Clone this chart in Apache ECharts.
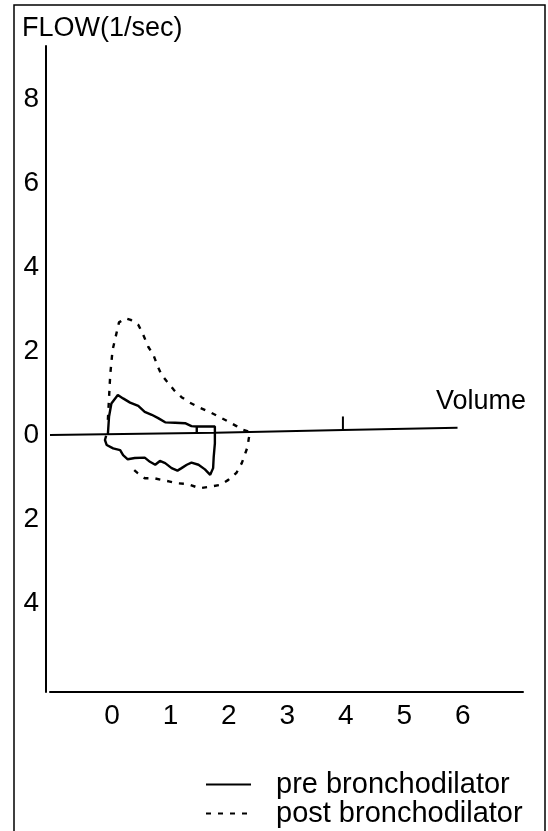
<!DOCTYPE html>
<html>
<head>
<meta charset="utf-8">
<script src="https://cdn.jsdelivr.net/npm/echarts@6/dist/echarts.min.js"></script>
<style>
html,body{margin:0;padding:0;background:#fff;}
#chart{width:548px;height:831px;}
</style>
</head>
<body>
<div id="chart"></div>
<script>
// ---- data (volume in litres, flow in l/sec) ----
var xTickValues = [0, 1, 2, 3, 4, 5, 6];
var yTickValues = [-4, -2, 0, 2, 4, 6, 8];

var preBronchodilator = [
  [-0.07, 0.02], [-0.05, 0.44], [-0.01, 0.75], [0.10, 0.95], [0.19, 0.87],
  [0.31, 0.77], [0.45, 0.69], [0.56, 0.55], [0.68, 0.48], [0.79, 0.40],
  [0.91, 0.30], [1.08, 0.29], [1.25, 0.28], [1.36, 0.21], [1.45, 0.20],
  [1.45, 0.03], [1.45, 0.20], [1.76, 0.20], [1.76, 0.04], [1.76, -0.20],
  [1.74, -0.52], [1.73, -0.79], [1.68, -0.95], [1.59, -0.82], [1.48, -0.71],
  [1.36, -0.66], [1.28, -0.71], [1.19, -0.79], [1.12, -0.85], [1.02, -0.79],
  [0.91, -0.67], [0.82, -0.62], [0.74, -0.71], [0.65, -0.64], [0.56, -0.54],
  [0.39, -0.55], [0.27, -0.58], [0.19, -0.48], [0.14, -0.36], [0.02, -0.32],
  [-0.09, -0.24], [-0.12, -0.12], [-0.10, -0.02]
];

var postBronchodilator = [
  [-0.07, 0.36], [-0.03, 1.43], [0.01, 2.02], [0.12, 2.68], [0.23, 2.78],
  [0.32, 2.74], [0.45, 2.62], [0.51, 2.46], [0.56, 2.30], [0.62, 2.10],
  [0.71, 1.90], [0.78, 1.64], [0.85, 1.43], [0.94, 1.27], [1.06, 1.07],
  [1.19, 0.90], [1.33, 0.77], [1.50, 0.65], [1.68, 0.54], [1.82, 0.44],
  [1.99, 0.32], [2.13, 0.21], [2.24, 0.12], [2.36, 0.07], [2.36, 0.02],
  [2.34, -0.08], [2.32, -0.28], [2.27, -0.48], [2.22, -0.67], [2.13, -0.90],
  [1.99, -1.07], [1.85, -1.19], [1.68, -1.23], [1.50, -1.27], [1.30, -1.17],
  [1.11, -1.15], [0.99, -1.11], [0.85, -1.07], [0.72, -1.03], [0.56, -1.03],
  [0.44, -0.91], [0.31, -0.75]
];

var zeroFlowLine = [[-1.06, 0.0], [1.76, 0.05], [3.95, 0.12], [5.91, 0.17]];
var zeroLineTick = [[3.95, 0.12], [3.95, 0.44]];

var xRange = [-1.06, 7.03];
var yRange = [-6.12, 9.26];

var FONT = '"Liberation Sans", Arial, sans-serif';

var legendText = {fontFamily: FONT, fontSize: 29, color: '#000', padding: [0, 0, 0, 20], lineHeight: 29};

var chart = echarts.init(document.getElementById('chart'), null, {renderer: 'canvas'});
chart.setOption({
  backgroundColor: '#fff',
  animation: false,
  title: [
    {text: 'FLOW(1/sec)', left: 22, top: 15, padding: 0,
     textStyle: {fontFamily: FONT, fontSize: 27, fontWeight: 'normal', color: '#000'}},
    {text: 'Volume', left: 436, top: 388, padding: 0,
     textStyle: {fontFamily: FONT, fontSize: 27, fontWeight: 'normal', color: '#000'}}
  ],
  grid: {left: 50, right: 25, top: 46, bottom: 139, containLabel: false},
  xAxis: {
    type: 'value', min: xRange[0], max: xRange[1],
    axisLine: {show: true, onZero: false, lineStyle: {color: '#000', width: 2}},
    axisTick: {show: false},
    splitLine: {show: false},
    axisLabel: {customValues: xTickValues, margin: 10, color: '#000',
                fontFamily: FONT, fontSize: 28}
  },
  yAxis: {
    type: 'value', min: yRange[0], max: yRange[1], offset: 4,
    axisLine: {show: true, onZero: false, lineStyle: {color: '#000', width: 2}},
    axisTick: {show: false},
    splitLine: {show: false},
    axisLabel: {customValues: yTickValues, margin: 7, color: '#000',
                fontFamily: FONT, fontSize: 28,
                formatter: function (v) { return String(Math.abs(v)); }}
  },
  legend: [
    {data: ['pre bronchodilator'], left: 205, top: 770, padding: 0,
     itemWidth: 45, itemHeight: 14, itemStyle: {opacity: 0},
     textStyle: legendText},
    {data: ['post bronchodilator'], left: 205, top: 799, padding: 0,
     itemWidth: 45, itemHeight: 14, itemStyle: {opacity: 0},
     textStyle: legendText}
  ],
  graphic: [
    {type: 'polyline', silent: true,
     shape: {points: [[14, 831], [14, 5], [545, 5], [545, 831]]},
     style: {stroke: '#000', lineWidth: 1.5, fill: null}}
  ],
  series: [
    {name: 'zero flow', type: 'line', data: zeroFlowLine, symbol: 'none',
     lineStyle: {color: '#000', width: 2}, z: 1},
    {name: 'tick', type: 'line', data: zeroLineTick, symbol: 'none',
     lineStyle: {color: '#000', width: 2}, z: 1},
    {name: 'pre bronchodilator', type: 'line', data: preBronchodilator, symbol: 'none',
     itemStyle: {color: '#000'},
     lineStyle: {color: '#000', width: 2.4, type: 'solid'}, z: 3},
    {name: 'post bronchodilator', type: 'line', data: postBronchodilator, symbol: 'none',
     itemStyle: {color: '#000'},
     lineStyle: {color: '#000', width: 2.4, type: [5, 7]}, z: 2}
  ]
});
</script>
</body>
</html>
